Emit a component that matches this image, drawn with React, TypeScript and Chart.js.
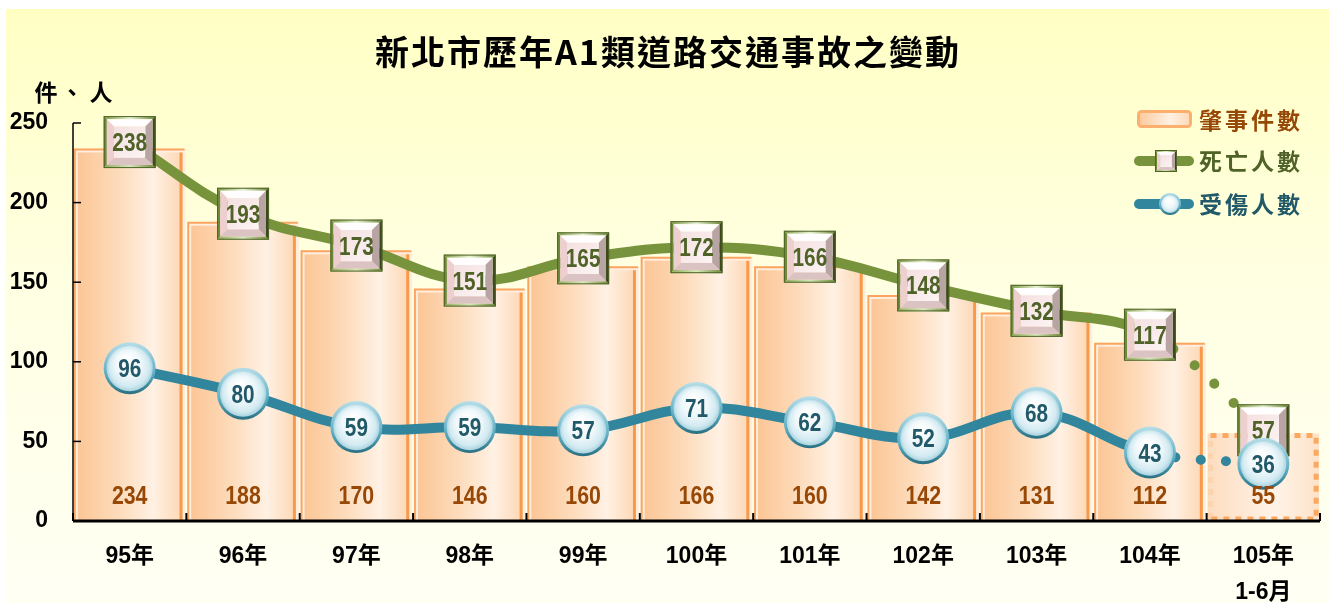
import React, { useEffect, useRef } from 'react';
import { Chart, registerables } from 'chart.js';

Chart.register(...registerables);

const categories: (string | string[])[] = ['95年', '96年', '97年', '98年', '99年', '100年', '101年', '102年', '103年', '104年', ['105年', '1-6月']];
const accidents = [234, 188, 170, 146, 160, 166, 160, 142, 131, 112, 55];
const deaths = [238, 193, 173, 151, 165, 172, 166, 148, 132, 117, 57];
const injured = [96, 80, 59, 59, 57, 71, 62, 52, 68, 43, 36];
const yMin = 0;
const yMax = 250;
const yStep = 50;

const TITLE = '新北市歷年A1類道路交通事故之變動';
const Y_TITLE = ['件', '、', '人'];
const LEGEND = ['肇事件數', '死亡人數', '受傷人數'];

const NUM_FONT = '"Liberation Sans", Arial, "Noto Sans CJK TC", sans-serif';
const CJK_FONT = '"Noto Sans CJK TC", sans-serif';

const GREEN = '#77933C';
const TEAL = '#31859C';
const BROWN = '#974806';
const DGREEN = '#4F6228';
const DTEAL = '#215968';

function narrowText(ctx: CanvasRenderingContext2D, text: string, x: number, y: number, sx: number) {
  ctx.save();
  ctx.translate(x, y);
  ctx.scale(sx, 1);
  ctx.fillText(text, 0, 0);
  ctx.restore();
}

function drawSquare(ctx: CanvasRenderingContext2D, cx: number, cy: number, s: number) {
  const h = s / 2;
  const L = cx - h, T = cy - h, R = cx + h, B = cy + h;
  const poly = (pts: number[][], fill: any) => {
    ctx.beginPath();
    ctx.moveTo(pts[0][0], pts[0][1]);
    for (let i = 1; i < pts.length; i++) ctx.lineTo(pts[i][0], pts[i][1]);
    ctx.closePath();
    ctx.fillStyle = fill;
    ctx.fill();
  };
  const f = Math.max(2, s * 0.06);
  const tg = ctx.createLinearGradient(L, 0, R, 0);
  tg.addColorStop(0, '#7F9C45');
  tg.addColorStop(0.5, '#E9F2D6');
  tg.addColorStop(1, '#6F8A38');
  poly([[L, T], [R, T], [R - f, T + f], [L + f, T + f]], tg);
  poly([[L, T], [L + f, T + f], [L + f, B - f], [L, B]], '#6E8B38');
  poly([[R, T], [R, B], [R - f, B - f], [R - f, T + f]], '#3B4A1B');
  const bg = ctx.createLinearGradient(L, 0, R, 0);
  bg.addColorStop(0, '#8FAD5A');
  bg.addColorStop(0.5, '#D8E6BC');
  bg.addColorStop(1, '#6F8A38');
  poly([[L, B], [L + f, B - f], [R - f, B - f], [R, B]], bg);
  const L2 = L + f, T2 = T + f, R2 = R - f, B2 = B - f;
  const b = s * 0.14;
  poly([[L2, T2], [R2, T2], [R2 - b, T2 + b], [L2 + b, T2 + b]], '#FFFDFD');
  poly([[L2, T2], [L2 + b, T2 + b], [L2 + b, B2 - b], [L2, B2]], '#EDCFCF');
  poly([[R2, T2], [R2, B2], [R2 - b, B2 - b], [R2 - b, T2 + b]], '#B9A4A4');
  poly([[L2, B2], [L2 + b, B2 - b], [R2 - b, B2 - b], [R2, B2]], '#DCC3C3');
  const cg = ctx.createLinearGradient(L2 + b, T2 + b, R2 - b, B2 - b);
  cg.addColorStop(0, '#F5E0E0');
  cg.addColorStop(1, '#FCF4F4');
  ctx.fillStyle = cg;
  ctx.fillRect(L2 + b, T2 + b, R2 - L2 - 2 * b, B2 - T2 - 2 * b);
  ctx.strokeStyle = '#4F6228';
  ctx.lineWidth = 1;
  ctx.strokeRect(L + 0.5, T + 0.5, s - 1, s - 1);
}

function drawCircle(ctx: CanvasRenderingContext2D, cx: number, cy: number, r: number) {
  const og = ctx.createLinearGradient(cx, cy - r, cx, cy + r);
  og.addColorStop(0, '#B7DEE8');
  og.addColorStop(0.6, '#5FAFC4');
  og.addColorStop(1, '#2A6F82');
  ctx.beginPath();
  ctx.arc(cx, cy, r, 0, Math.PI * 2);
  ctx.fillStyle = og;
  ctx.fill();
  const ir = r - Math.max(2, r * 0.11);
  const rg = ctx.createRadialGradient(cx - ir * 0.15, cy - ir * 0.45, 1, cx, cy, ir);
  rg.addColorStop(0, '#FFFFFF');
  rg.addColorStop(0.55, '#EEF7FA');
  rg.addColorStop(0.85, '#D2EAF1');
  rg.addColorStop(1, '#A9D3DF');
  ctx.beginPath();
  ctx.arc(cx, cy, ir, 0, Math.PI * 2);
  ctx.fillStyle = rg;
  ctx.fill();
}

const customPlugin = {
  id: 'custom',
  beforeDraw(chart: any) {
    const { ctx, width, height } = chart;
    ctx.save();
    ctx.fillStyle = '#FFFFFF';
    ctx.fillRect(0, 0, width, height);
    const g = ctx.createLinearGradient(0, 9, 0, height);
    g.addColorStop(0, '#FFFFC4');
    g.addColorStop(0.45, '#FFFFE2');
    g.addColorStop(1, '#FFFFF4');
    ctx.fillStyle = g;
    ctx.fillRect(6, 9, width - 6, height - 9);

    // title
    ctx.fillStyle = '#000';
    ctx.font = `bold 34px ${CJK_FONT}`;
    ctx.textAlign = 'center';
    ctx.textBaseline = 'middle';
    (ctx as any).letterSpacing = '2px';
    ctx.fillText(TITLE, 668, 52);
    (ctx as any).letterSpacing = '0px';

    // y title
    ctx.font = `bold 23px ${CJK_FONT}`;
    const yx = [46, 72, 101];
    Y_TITLE.forEach((c, i) => ctx.fillText(c, yx[i], 92));

    // legend: bar swatch
    const lx = 1137, lw = 55;
    const sg = ctx.createLinearGradient(lx, 0, lx + lw, 0);
    sg.addColorStop(0, '#FCC797');
    sg.addColorStop(0.6, '#FFF1E3');
    sg.addColorStop(1, '#FDD8B5');
    ctx.fillStyle = sg;
    ctx.strokeStyle = '#FBB070';
    ctx.lineWidth = 3;
    ctx.beginPath();
    (ctx as any).roundRect(lx + 1.5, 111.5, lw - 3, 15, 3);
    ctx.fill();
    ctx.stroke();
    // legend: deaths line
    ctx.lineCap = 'round';
    ctx.lineWidth = 10;
    ctx.strokeStyle = GREEN;
    ctx.beginPath();
    ctx.moveTo(1139, 161);
    ctx.lineTo(1189, 161);
    ctx.stroke();
    drawSquare(ctx, 1166, 161, 22);
    // legend: injured line
    ctx.lineCap = 'round';
    ctx.lineWidth = 10;
    ctx.strokeStyle = TEAL;
    ctx.beginPath();
    ctx.moveTo(1139, 204);
    ctx.lineTo(1189, 204);
    ctx.stroke();
    drawCircle(ctx, 1170, 204, 11);
    ctx.lineCap = 'butt';

    ctx.textAlign = 'left';
    ctx.font = `bold 23px ${CJK_FONT}`;
    (ctx as any).letterSpacing = '3px';
    const lc = [BROWN, DGREEN, DTEAL];
    const ly = [120, 161, 204];
    LEGEND.forEach((t, i) => {
      ctx.fillStyle = lc[i];
      ctx.fillText(t, 1199, ly[i]);
    });
    (ctx as any).letterSpacing = '0px';
    ctx.restore();
  },
  beforeDatasetsDraw(chart: any) {
    const { ctx } = chart;
    const meta = chart.getDatasetMeta(0);
    const last = meta.data.length - 1;
    ctx.save();
    meta.data.forEach((el: any, i: number) => {
      const { x, y, width, base } = el.getProps(['x', 'y', 'width', 'base'], true);
      const l = x - width / 2, r = x + width / 2;
      if (i === last) {
        const g = ctx.createLinearGradient(l, 0, r, 0);
        g.addColorStop(0, '#FDDCBE');
        g.addColorStop(0.6, '#FFF3E8');
        g.addColorStop(1, '#FDE2C8');
        ctx.fillStyle = g;
        ctx.fillRect(l, y, r - l, base - y);
        ctx.setLineDash([6, 6]);
        ctx.lineWidth = 5;
        ctx.strokeStyle = '#FDD3AE';
        ctx.beginPath();
        ctx.moveTo(l + 3, base - 2);
        ctx.lineTo(l + 3, y + 2);
        ctx.stroke();
        ctx.strokeStyle = '#FBA860';
        ctx.beginPath();
        ctx.moveTo(l + 3, y + 2);
        ctx.lineTo(r - 3, y + 2);
        ctx.lineTo(r - 3, base - 2);
        ctx.lineTo(l + 3, base - 2);
        ctx.stroke();
        ctx.setLineDash([]);
      } else {
        ctx.fillStyle = '#FFEEDD';
        ctx.fillRect(l, y, r - l, base - y);
        const fl = l + 4, fr = r - 3, ft = y + 4;
        const g = ctx.createLinearGradient(fl, 0, fr, 0);
        g.addColorStop(0, '#FCC696');
        g.addColorStop(0.4, '#FDDCBC');
        g.addColorStop(0.72, '#FFF1E4');
        g.addColorStop(1, '#FDD7B3');
        ctx.fillStyle = g;
        ctx.fillRect(fl, ft, fr - fl, base - ft);
        ctx.strokeStyle = '#FBA660';
        ctx.lineWidth = 2;
        ctx.beginPath();
        ctx.moveTo(l + 1, base);
        ctx.lineTo(l + 1, y + 1);
        ctx.lineTo(r - 1, y + 1);
        ctx.stroke();
        ctx.lineWidth = 3;
        ctx.strokeStyle = '#F99A4A';
        ctx.beginPath();
        ctx.moveTo(fr - 1.5, ft);
        ctx.lineTo(fr - 1.5, base);
        ctx.stroke();
      }
    });
    ctx.restore();
  },
  afterDatasetsDraw(chart: any) {
    const { ctx, chartArea, scales } = chart;
    ctx.save();
    // axes
    ctx.strokeStyle = '#000';
    ctx.lineWidth = 1.5;
    ctx.beginPath();
    ctx.moveTo(chartArea.left, chartArea.top);
    ctx.lineTo(chartArea.left, chartArea.bottom);
    ctx.stroke();
    scales.y.ticks.forEach((t: any) => {
      const py = scales.y.getPixelForValue(t.value);
      ctx.beginPath();
      ctx.moveTo(chartArea.left, py);
      ctx.lineTo(chartArea.left + 8, py);
      ctx.stroke();
    });
    ctx.lineWidth = 3;
    ctx.beginPath();
    ctx.moveTo(chartArea.left, chartArea.bottom);
    ctx.lineTo(chartArea.right, chartArea.bottom);
    ctx.stroke();
    ctx.lineWidth = 2;
    const n = categories.length;
    const step = scales.x.getPixelForValue(1) - scales.x.getPixelForValue(0);
    for (let i = 0; i <= n; i++) {
      const px = i < n ? scales.x.getPixelForValue(i) - step / 2 : chartArea.right;
      ctx.beginPath();
      ctx.moveTo(px, chartArea.bottom);
      ctx.lineTo(px, chartArea.bottom - 8);
      ctx.stroke();
    }

    // markers
    const dm = chart.getDatasetMeta(1);
    ctx.font = `bold 25px ${NUM_FONT}`;
    ctx.textAlign = 'center';
    ctx.textBaseline = 'alphabetic';
    dm.data.forEach((p: any, i: number) => {
      drawSquare(ctx, p.x, p.y, 52);
      ctx.fillStyle = DGREEN;
      narrowText(ctx, String(deaths[i]), p.x, p.y + 9, 0.83);
    });
    const im = chart.getDatasetMeta(2);
    im.data.forEach((p: any, i: number) => {
      drawCircle(ctx, p.x, p.y, 26);
      ctx.fillStyle = DTEAL;
      narrowText(ctx, String(injured[i]), p.x, p.y + 9, 0.83);
    });
    // bar labels
    const bm = chart.getDatasetMeta(0);
    ctx.font = `bold 26px ${NUM_FONT}`;
    ctx.fillStyle = BROWN;
    bm.data.forEach((b: any, i: number) => {
      narrowText(ctx, String(accidents[i]), b.x, 504, 0.82);
    });
    ctx.restore();
  },
};

export default function App() {
  const ref = useRef<HTMLCanvasElement>(null);
  useEffect(() => {
    if (!ref.current) return;
    const lastIdx = categories.length - 1;
    const chart = new Chart(ref.current, {
      type: 'bar',
      data: {
        labels: categories as any,
        datasets: [
          {
            type: 'bar',
            label: LEGEND[0],
            data: accidents,
            backgroundColor: 'rgba(0,0,0,0)',
            borderWidth: 0,
            barPercentage: 0.985,
            categoryPercentage: 1,
            order: 3,
          } as any,
          {
            type: 'line',
            label: LEGEND[1],
            data: deaths,
            borderColor: GREEN,
            borderWidth: 10,
            tension: 0.4,
            pointRadius: 0,
            borderJoinStyle: 'round',
            order: 2,
            segment: {
              borderDash: (c: any) => (c.p1DataIndex === lastIdx ? [0.1, 27] : undefined),
              borderCapStyle: (c: any) => (c.p1DataIndex === lastIdx ? 'round' : undefined),
            },
          } as any,
          {
            type: 'line',
            label: LEGEND[2],
            data: injured,
            borderColor: TEAL,
            borderWidth: 10,
            tension: 0.4,
            pointRadius: 0,
            borderJoinStyle: 'round',
            order: 1,
            segment: {
              borderDash: (c: any) => (c.p1DataIndex === lastIdx ? [0.1, 25.5] : undefined),
              borderCapStyle: (c: any) => (c.p1DataIndex === lastIdx ? 'round' : undefined),
            },
          } as any,
        ],
      },
      options: {
        responsive: false,
        animation: false,
        layout: { padding: { top: 123, right: 9, left: 0, bottom: 0 } },
        plugins: { legend: { display: false }, tooltip: { enabled: false }, title: { display: false } },
        scales: {
          x: {
            grid: { display: false, drawTicks: false },
            border: { display: false },
            ticks: {
              color: '#000',
              font: { family: NUM_FONT, size: 23, weight: 'bold', lineHeight: 1.55 },
              padding: 18,
              maxRotation: 0,
              autoSkip: false,
            },
            afterFit: (s: any) => {
              s.height = 82;
            },
          },
          y: {
            min: yMin,
            max: yMax,
            grid: { display: false, drawTicks: false },
            border: { display: false },
            ticks: {
              stepSize: yStep,
              color: '#000',
              font: { family: NUM_FONT, size: 23, weight: 'bold' },
              padding: 25,
            },
            afterFit: (s: any) => {
              s.width = 73;
            },
          },
        },
      } as any,
      plugins: [customPlugin],
    });
    return () => chart.destroy();
  }, []);
  return (
    <div style={{ position: 'absolute', left: 0, top: 0, width: 1329, height: 603 }}>
      <canvas ref={ref} width={1329} height={603} style={{ display: 'block' }} />
    </div>
  );
}
